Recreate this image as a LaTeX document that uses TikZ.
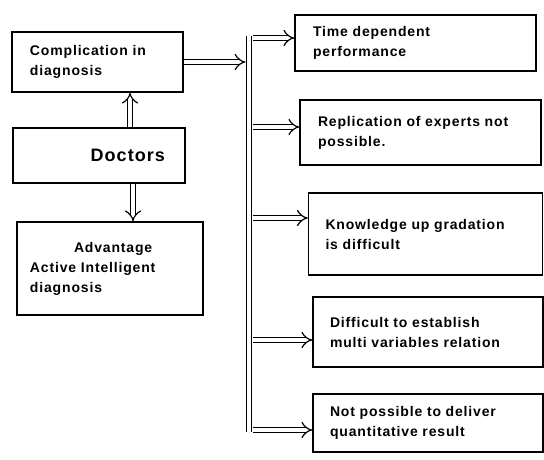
\documentclass[tikz,border=0pt]{standalone}
\usepackage{fontspec}
\setmainfont{Liberation Sans}
\newfontfamily\boxfont[LetterSpace=6]{Liberation Sans}
\usetikzlibrary{positioning,arrows.meta}

\begin{document}
\begin{tikzpicture}[x=1pt,y=-1pt]
\tikzstyle{box}=[rectangle,draw,line width=1.4pt,inner sep=0pt,align=left,font=\boxfont\bfseries\fontsize{14}{20}\selectfont]
\tikzstyle{dbl}=[double,double distance=4.5pt,line width=1.2pt,-{Implies[scale=1.2]}]
\useasboundingbox (0,0) rectangle (544,459);
% left column
\node (comp) [box, minimum width=171pt, minimum height=60pt, text width=135pt] at (97.5,62) {Complication in\\diagnosis};
\node (doc) [box, minimum width=172pt, minimum height=55pt, text width=132pt, align=right, font=\boxfont\bfseries\fontsize{18}{22}\selectfont] at (99,155.5) {Doctors};
\node (adv) [box, minimum width=186pt, minimum height=93pt, text width=160pt] at (110,268.5) {\hspace*{44pt}Advantage\\Active Intelligent\\diagnosis};
% right column
\node (t1) [box, minimum width=241pt, minimum height=56pt, text width=205pt] at (415.5,43) {Time dependent\\performance};
\node (t2) [box, minimum width=241pt, minimum height=65pt, text width=205pt] at (420.5,132.5) {Replication of experts not\\possible.};
\node (t3) [box, minimum width=234pt, minimum height=82pt, text width=200pt] at (425.5,234) {Knowledge up gradation\\is difficult};
\node (t4) [box, minimum width=230pt, minimum height=70pt, text width=196pt] at (428,332) {Difficult to establish\\multi variables relation};
\node (t5) [box, minimum width=230pt, minimum height=58pt, text width=196pt] at (428,423) {Not possible to deliver\\quantitative result};
% bus
\coordinate (bt) at (249,36);
\coordinate (bb) at (249,432);
\coordinate (b1) at (249,38);
\coordinate (b2) at (249,127);
\coordinate (b3) at (249,218);
\coordinate (b4) at (249,340);
\coordinate (b5) at (249,430);
\draw[double,double distance=4.5pt,line width=1.2pt] (bt) -- (bb);
\draw[dbl] ([xshift=31pt]doc.north) -- ([xshift=31pt]doc.north |- comp.south);
\draw[dbl] ([xshift=34pt]doc.south) -- ([xshift=34pt]doc.south |- adv.north);
\draw[dbl, shorten >=3.5pt] (comp.east) -- (comp.east -| bt);
\draw[dbl, shorten <=3.5pt] (b1) -- (b1 -| t1.west);
\draw[dbl, shorten <=3.5pt] (b2) -- (b2 -| t2.west);
\draw[dbl, shorten <=3.5pt] (b3) -- (b3 -| t3.west);
\draw[dbl, shorten <=3.5pt] (b4) -- (b4 -| t4.west);
\draw[dbl, shorten <=3.5pt] (b5) -- (b5 -| t5.west);
\end{tikzpicture}
\end{document}
